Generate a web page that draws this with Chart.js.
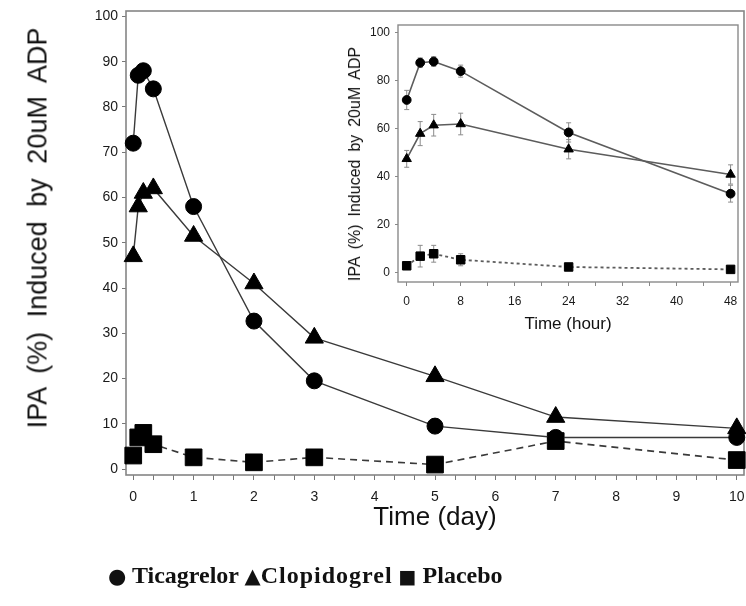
<!DOCTYPE html>
<html>
<head>
<meta charset="utf-8">
<script src="https://cdn.jsdelivr.net/npm/chart.js@4.4.1/dist/chart.umd.min.js"></script>
<style>
  html, body { margin: 0; padding: 0; background: #fff; }
  #wrap { position: relative; width: 746px; height: 606px; overflow: hidden; }
  #main-chart { position: absolute; left: 0; top: 0; }
  #inset-box { position: absolute; left: 340px; top: 22px; width: 402px; height: 315px; background: #fff; }
  .ytitle {
    position: absolute; white-space: nowrap; color: #111;
    font-family: "Liberation Sans", Arial, sans-serif;
    transform: translate(-50%, -50%) rotate(-90deg);
  }
  #main-ytitle { left: 38px; top: 228px; font-size: 27px; word-spacing: 7px; }
  #inset-ytitle { left: 355px; top: 164px; font-size: 16px; word-spacing: 3.5px; }
  #legend {
    position: absolute; left: 108px; top: 562px; white-space: nowrap;
    font: bold 24px "Liberation Serif", "Times New Roman", serif; color: #111;
  }
  #legend .mk { font-family: "DejaVu Sans", sans-serif; font-weight: normal; }
  #legend .wide { letter-spacing: 1px; }
</style>
</head>
<body>
<div id="wrap">
  <canvas id="main-chart" width="746" height="606"></canvas>
  <div id="inset-box"><canvas id="inset-chart" width="402" height="315"></canvas></div>
  <div class="ytitle" id="main-ytitle">IPA (%) Induced by 20uM ADP</div>
  <div class="ytitle" id="inset-ytitle">IPA (%) Induced by 20uM ADP</div>
  <div id="legend"><span class="mk" style="font-size:21px">●</span> Ticagrelor <span class="mk" style="font-size:21px">▲</span><span class="wide">Clopidogrel</span> <span class="mk" style="font-size:19px">■</span> Placebo</div>
</div>
<script>
// Main panel: time in days (first points are 2h, 4h, 8h)
const dayTimes = [0, 0.083, 0.167, 0.333, 1, 2, 3, 5, 7, 10];
const ticagrelorDay = [72, 87, 88, 84, 58, 32.7, 19.5, 9.5, 7, 7];
const clopidogrelDay = [47, 58, 61, 62, 51.5, 41, 29, 20.5, 11.5, 9];
const placeboDay = [3, 7, 8, 5.5, 2.6, 1.5, 2.6, 1, 6.2, 2];
const dayTickLabels = [0, 1, 2, 3, 4, 5, 6, 7, 8, 9, 10];

// Inset: first 48 hours, with error bars
const hourTimes = [0, 2, 4, 8, 24, 48];
const ticagrelorHour = [72, 87.5, 88, 84, 58.5, 33];
const clopidogrelHour = [47.5, 58, 61.5, 62, 51.5, 41];
const placeboHour = [3, 7, 8, 5.5, 2.5, 1.5];
const ticagrelorErr = [4, 2, 2, 2.5, 4, 3.5];
const clopidogrelErr = [3.5, 5, 4.5, 4.5, 4, 4];
const placeboErr = [1, 4.5, 3.5, 2.5, 1, 0.5];
const hourTickLabels = [0, 8, 16, 24, 32, 40, 48];

const sansFont = '"Liberation Sans", Arial, sans-serif';

function toPoints(xs, ys) {
  return xs.map((x, i) => ({ x: x, y: ys[i] }));
}

// box around the plot area, like the original figure
const framePlugin = {
  id: 'frame',
  beforeDatasetsDraw(chart, args, opts) {
    const a = chart.chartArea;
    const ctx = chart.ctx;
    ctx.save();
    ctx.strokeStyle = opts.color || '#808080';
    ctx.lineWidth = opts.width || 1.5;
    ctx.strokeRect(a.left, a.top, a.right - a.left, a.bottom - a.top);
    ctx.restore();
  }
};

// vertical whiskers with caps, drawn under the markers
const errorBarPlugin = {
  id: 'errorBars',
  beforeDatasetsDraw(chart) {
    const ctx = chart.ctx;
    const xs = chart.scales.x, ys = chart.scales.y;
    ctx.save();
    ctx.strokeStyle = '#8c8c8c';
    ctx.lineWidth = 1;
    chart.data.datasets.forEach(ds => {
      if (!ds.errors) return;
      ds.data.forEach((pt, i) => {
        const px = xs.getPixelForValue(pt.x);
        const top = ys.getPixelForValue(pt.y + ds.errors[i]);
        const bot = ys.getPixelForValue(pt.y - ds.errors[i]);
        ctx.beginPath();
        ctx.moveTo(px, top); ctx.lineTo(px, bot);
        ctx.moveTo(px - 2.5, top); ctx.lineTo(px + 2.5, top);
        ctx.moveTo(px - 2.5, bot); ctx.lineTo(px + 2.5, bot);
        ctx.stroke();
      });
    });
    ctx.restore();
  }
};

function series(label, xs, ys, style, radius, color, dash, width) {
  return {
    label: label,
    data: toPoints(xs, ys),
    showLine: true,
    borderColor: color,
    borderWidth: width,
    borderDash: dash,
    pointStyle: style,
    pointRadius: radius,
    pointBackgroundColor: '#000',
    pointBorderColor: '#000',
    pointBorderWidth: 1,
    clip: false
  };
}

function isLabelTick(value, list) {
  return list.some(t => Math.abs(t - value) < 1e-6);
}

// fixed axis sizes so the plot box lands where the original has it
function fixHeight(h) {
  return s => { s.height = h; s.paddingLeft = 0; s.paddingRight = 0; };
}
function fixWidth(w) {
  return s => { s.width = w; s.paddingTop = 0; s.paddingBottom = 0; };
}

function createMainChart() {
  const lineColor = '#3a3a3a';
  new Chart(document.getElementById('main-chart'), {
    type: 'scatter',
    data: {
      datasets: [
        series('Ticagrelor', dayTimes, ticagrelorDay, 'circle', 8, lineColor, [], 1.4),
        series('Clopidogrel', dayTimes, clopidogrelDay, 'triangle', 10.5, lineColor, [], 1.4),
        series('Placebo', dayTimes, placeboDay, 'rect', 11.8, lineColor, [7, 5], 1.6)
      ]
    },
    options: {
      responsive: false,
      animation: false,
      layout: { autoPadding: false, padding: { top: 11, right: 2, left: 0, bottom: 0 } },
      plugins: {
        legend: { display: false },
        tooltip: { enabled: false },
        frame: { color: '#858585', width: 1.6 }
      },
      scales: {
        x: {
          type: 'linear',
          min: -0.12,
          max: 10.12,
          afterFit: fixHeight(131),
          border: { display: false },
          grid: { drawOnChartArea: false, tickLength: 5, tickColor: '#777', tickWidth: 1 },
          ticks: {
            stepSize: 1 / 3,
            includeBounds: false,
            autoSkip: false,
            maxRotation: 0,
            padding: 9,
            color: '#1a1a1a',
            font: { family: sansFont, size: 14 },
            callback: v => isLabelTick(v, dayTickLabels) ? String(Math.round(v)) : ''
          },
          title: {
            display: true,
            text: 'Time (day)',
            color: '#111',
            font: { family: sansFont, size: 26 },
            padding: { top: 0, bottom: 73 }
          }
        },
        y: {
          type: 'linear',
          min: -1.3,
          max: 101.2,
          afterFit: fixWidth(126),
          border: { display: false },
          grid: { drawOnChartArea: false, tickLength: 4, tickColor: '#777', tickWidth: 1 },
          ticks: {
            stepSize: 10,
            includeBounds: false,
            padding: 4,
            color: '#1a1a1a',
            font: { family: sansFont, size: 14 }
          }
        }
      }
    },
    plugins: [framePlugin]
  });
}

function createInsetChart() {
  const lineColor = '#5c5c5c';
  const tic = series('Ticagrelor', hourTimes, ticagrelorHour, 'circle', 4.4, lineColor, [], 1.6);
  const clop = series('Clopidogrel', hourTimes, clopidogrelHour, 'triangle', 5.4, lineColor, [], 1.6);
  const plac = series('Placebo', hourTimes, placeboHour, 'rect', 6, lineColor, [3, 3], 1.8);
  tic.errors = ticagrelorErr;
  clop.errors = clopidogrelErr;
  plac.errors = placeboErr;

  new Chart(document.getElementById('inset-chart'), {
    type: 'scatter',
    data: { datasets: [tic, clop, plac] },
    options: {
      responsive: false,
      animation: false,
      layout: { autoPadding: false, padding: { top: 3, right: 4, left: 0, bottom: 0 } },
      plugins: {
        legend: { display: false },
        tooltip: { enabled: false },
        frame: { color: '#8a8a8a', width: 1.4 }
      },
      scales: {
        x: {
          type: 'linear',
          min: -1.29,
          max: 49.1,
          afterFit: fixHeight(55),
          border: { display: false },
          grid: { drawOnChartArea: false, tickLength: 4, tickColor: '#888', tickWidth: 1 },
          ticks: {
            stepSize: 4,
            includeBounds: false,
            autoSkip: false,
            maxRotation: 0,
            padding: 8,
            color: '#1a1a1a',
            font: { family: sansFont, size: 12 },
            callback: v => isLabelTick(v, hourTickLabels) ? String(Math.round(v)) : ''
          },
          title: {
            display: true,
            text: 'Time (hour)',
            color: '#111',
            font: { family: sansFont, size: 17 },
            padding: { top: 0, bottom: 2 }
          }
        },
        y: {
          type: 'linear',
          min: -3.75,
          max: 103.2,
          afterFit: fixWidth(58),
          border: { display: false },
          grid: { drawOnChartArea: false, tickLength: 3, tickColor: '#888', tickWidth: 1 },
          ticks: {
            stepSize: 20,
            includeBounds: false,
            padding: 5,
            color: '#1a1a1a',
            font: { family: sansFont, size: 12 }
          }
        }
      }
    },
    plugins: [framePlugin, errorBarPlugin]
  });
}

createMainChart();
createInsetChart();
</script>
</body>
</html>
